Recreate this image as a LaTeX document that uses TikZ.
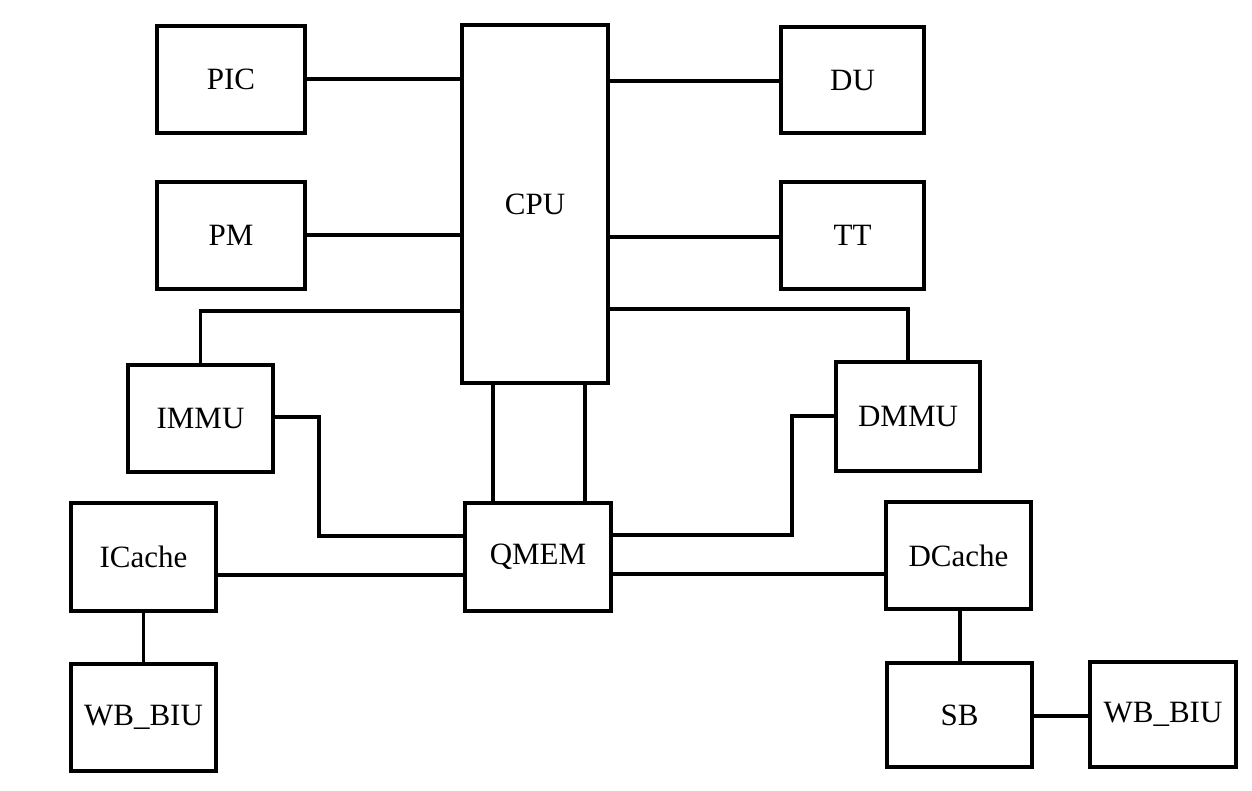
\documentclass[tikz,border=0pt]{standalone}
\usepackage{fontspec}
\setmainfont{Liberation Serif}
\begin{document}
\begin{tikzpicture}[x=1pt,y=-1pt,
  blk/.style={draw=black, line width=4pt, inner sep=0pt, fill=white,
    font=\fontsize{31}{36}\selectfont, minimum width=145pt, minimum height=107pt},
  wire/.style={draw=black, line width=3.6pt}]
\useasboundingbox[fill=white] (0,0) rectangle (1252,790);
% boxes
\node[blk, minimum width=148pt] (PIC) at (231,79.5) {PIC};
\node[blk, minimum width=146pt, minimum height=358pt] (CPU) at (535,204) {CPU};
\node[blk, minimum width=143pt, minimum height=106pt] (DU) at (852.5,80) {DU};
\node[blk, minimum width=148pt] (PM) at (231,235.5) {PM};
\node[blk, minimum width=143pt] (TT) at (852.5,235.5) {TT};
\node[blk] (IMMU) at (200.5,418.5) {IMMU};
\node[blk, minimum width=144pt, minimum height=109pt] (DMMU) at (908,416.5) {DMMU};
\node[blk, minimum height=108pt] (ICache) at (143.5,557) {ICache};
\node[blk, minimum width=146pt, minimum height=108pt] (QMEM) at (538,557) {QMEM};
\node[blk] (DCache) at (958.5,555.5) {DCache};
\node[blk] (WBL) at (143.5,717.5) {WB\_BIU};
\node[blk, minimum height=104pt] (SB) at (959.5,715) {SB};
\node[blk, minimum width=146pt, minimum height=105pt] (WBR) at (1163,714.5) {WB\_BIU};
% connectors
\draw[wire] (PIC.east |- 0,79) -- (CPU.west |- 0,79);
\draw[wire] (PM.east |- 0,235) -- (CPU.west |- 0,235);
\draw[wire] (CPU.east |- 0,81) -- (DU.west |- 0,81);
\draw[wire] (CPU.east |- 0,237) -- (TT.west |- 0,237);
\draw[wire] (IMMU.north) -- (IMMU.north |- 0,311) -- (CPU.west |- 0,311);
\draw[wire] (DMMU.north) -- (DMMU.north |- 0,309) -- (CPU.east |- 0,309);
\draw[wire] (CPU.south -| 493,0) -- (QMEM.north -| 493,0);
\draw[wire] (CPU.south -| 585,0) -- (QMEM.north -| 585,0);
\draw[wire] (IMMU.east |- 0,417) -- (319,417) -- (319,536) -- (QMEM.west |- 0,536);
\draw[wire] (DMMU.west |- 0,416) -- (792,416) -- (792,535) -- (QMEM.east |- 0,535);
\draw[wire] (ICache.east |- 0,575) -- (QMEM.west |- 0,575);
\draw[wire] (QMEM.east |- 0,574) -- (DCache.west |- 0,574);
\draw[wire] (ICache.south) -- (WBL.north);
\draw[wire] (DCache.south -| 960,0) -- (SB.north -| 960,0);
\draw[wire] (SB.east |- 0,716) -- (WBR.west |- 0,716);
\end{tikzpicture}
\end{document}
